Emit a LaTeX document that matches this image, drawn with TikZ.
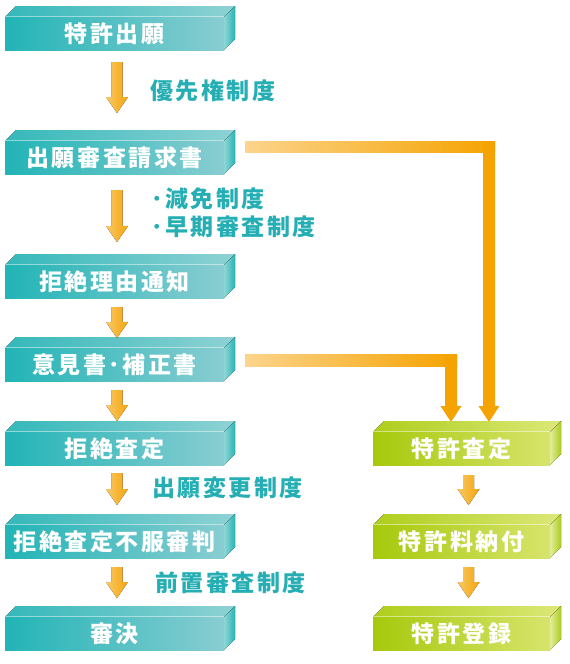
\documentclass[tikz,border=0pt]{standalone}
\usepackage{fontspec}
\newfontfamily\jpf{Noto Sans CJK JP}[LetterSpace=11]
\usetikzlibrary{calc}
\definecolor{tfL}{HTML}{22B4B6}\definecolor{tfR}{HTML}{88CDD1}
\definecolor{ttL}{HTML}{35B8BA}\definecolor{ttR}{HTML}{8ED2D4}
\definecolor{tsL}{HTML}{8ED6D6}\definecolor{tsR}{HTML}{2AB3B5}
\definecolor{gfL}{HTML}{A6C90C}\definecolor{gfR}{HTML}{D8E46C}
\definecolor{gtL}{HTML}{AECE1C}\definecolor{gtR}{HTML}{DCE878}
\definecolor{gsL}{HTML}{E3EE9A}\definecolor{gsR}{HTML}{A9CB1F}
\definecolor{arL}{HTML}{FAC963}\definecolor{arR}{HTML}{F4A40E}
\definecolor{cnL}{HTML}{FCD48C}\definecolor{cnR}{HTML}{F5A300}
\definecolor{labc}{HTML}{25AEB3}
\newcommand{\pbox}[7]{%
  \fill[left color=#6tL,right color=#6tR] (#2,#4) -- (#2+11,#4-11) -- (#3+11,#4-11) -- (#3,#4) -- cycle;
  \fill[left color=#6sL,right color=#6sR] (#3,#4) -- (#3+11,#4-11) -- (#3+11,#5-11) -- (#3,#5) -- cycle;
  \node[boxface,left color=#6fL,right color=#6fR,minimum width={(#3-#2)*1pt},minimum height={(#5-#4)*1pt}] (#1) at ({(#2+#3)/2},{(#4+#5)/2}) {#7};
  \draw[white,opacity=.45,line width=1pt] (#1.north west) -- (#1.north east);
}
\newcommand{\sarr}[4]{%
  \coordinate (#1) at (#2,#4);
  \fill[left color=arL,right color=arR] (#2-5.5,#3) -- (#2+5.5,#3) -- (#2+5.5,#4-16) -- (#2+11,#4-16) -- (#1) -- (#2-11,#4-16) -- (#2-5.5,#4-16) -- cycle;
}
\tikzset{
  boxface/.style={inner sep=0pt,text=white,font=\jpf\bfseries\fontsize{23}{23}\selectfont},
  lab/.style={inner sep=0pt,anchor=west,text=labc,font=\jpf\bfseries\fontsize{23}{23}\selectfont},
}
\begin{document}
\begin{tikzpicture}[x=1pt,y=-1pt]
\useasboundingbox (0,0) rectangle (570,664);
\fill[white] (0,0) rectangle (570,664);
% connectors (behind)
\coordinate (c1s) at (245,146.5);
\coordinate (c1t) at (489,422);
\fill[left color=cnL,right color=cnR] (c1s|-0,141) rectangle (495,152);
\fill[cnR] (483,141) -- (495,141) -- (495,406) -- (499.5,406) -- (c1t) -- (478.5,406) -- (483,406) -- cycle;
\coordinate (c2s) at (245,360);
\coordinate (c2t) at (451,422);
\fill[left color=cnL,right color=cnR] (c2s|-0,354) rectangle (457,366);
\fill[cnR] (445,354) -- (457,354) -- (457,406) -- (461.5,406) -- (c2t) -- (440.5,406) -- (445,406) -- cycle;
% boxes
\pbox{b1}{5}{224}{17}{50}{t}{特許出願}
\pbox{b2}{5}{224}{141}{174}{t}{出願審査請求書}
\pbox{b3}{5}{224}{265}{298}{t}{拒絶理由通知}
\pbox{b4}{5}{224}{348}{381}{t}{意見書･補正書}
\pbox{b5}{5}{224}{432}{465}{t}{拒絶査定}
\pbox{b6}{5}{224}{525}{558}{t}{拒絶査定不服審判}
\pbox{b7}{5}{224}{617}{650}{t}{審決}
\pbox{g1}{373}{550}{432}{465}{g}{特許査定}
\pbox{g2}{373}{550}{525}{558}{g}{特許料納付}
\pbox{g3}{373}{550}{617}{650}{g}{特許登録}
% small arrows
\sarr{a1}{117}{62}{113}
\sarr{a2}{117}{190}{242}
\sarr{a3}{117}{307}{338}
\sarr{a4}{117}{390}{421}
\sarr{a5}{117}{473}{505}
\sarr{a6}{117}{567}{598}
\sarr{a7}{468.5}{475}{505}
\sarr{a8}{468.5}{567}{598}
% labels
\node[lab] (l1) at (150,91) {優先権制度};
\node[lab] (l2) at (151,199) {･減免制度};
\node[lab] (l3) at (151,226.5) {･早期審査制度};
\node[lab] (l4) at (152,488) {出願変更制度};
\node[lab] (l5) at (155,583) {前置審査制度};
\end{tikzpicture}
\end{document}
